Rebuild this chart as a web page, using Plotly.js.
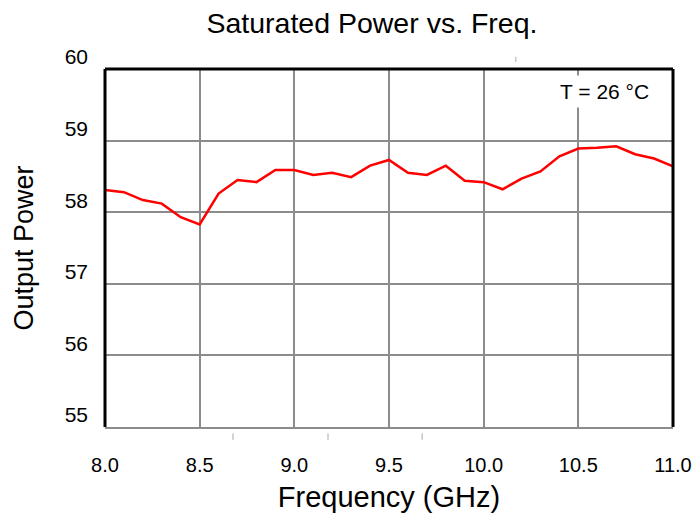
<!DOCTYPE html>
<html>
<head>
<meta charset="utf-8">
<script src="https://cdn.plot.ly/plotly-3.0.1.min.js"></script>
<style>html,body{margin:0;padding:0;background:#fff;}#chart{width:697px;height:518px;}</style>
</head>
<body>
<div id="chart"></div>
<script>
const freqGHz = [8.0,8.1,8.2,8.3,8.4,8.5,8.6,8.7,8.8,8.9,9.0,9.1,9.2,9.3,9.4,9.5,9.6,9.7,9.8,9.9,10.0,10.1,10.2,10.3,10.4,10.5,10.6,10.7,10.8,10.9,11.0];
const outputPower = [58.31,58.28,58.17,58.12,57.93,57.83,58.26,58.45,58.42,58.59,58.59,58.52,58.55,58.49,58.65,58.73,58.55,58.52,58.65,58.44,58.42,58.32,58.47,58.57,58.78,58.89,58.90,58.92,58.81,58.75,58.64];
const xTicks = [8.0,8.5,9.0,9.5,10.0,10.5,11.0];
const xTickText = ["8.0","8.5","9.0","9.5","10.0","10.5","11.0"];
const yTicks = [55,56,57,58,59,60];
const annotationText = "T = 26 °C";
const markTicksBottom = [8.676,9.178,9.675];

const font = "Liberation Sans, Arial, sans-serif";
const shapes = [
  {type:'line', xref:'paper', yref:'paper', x0:0, x1:0, y0:0, y1:1, line:{color:'#000', width:3}},
  {type:'line', xref:'paper', yref:'paper', x0:0, x1:1, y0:1, y1:1, line:{color:'#000', width:3}},
  {type:'line', xref:'paper', yref:'paper', x0:1, x1:1, y0:0, y1:1, line:{color:'#000', width:3}}
];
markTicksBottom.forEach(v => shapes.push({type:'line', xref:'x', yref:'paper', x0:v, x1:v, y0:-0.018, y1:-0.036, line:{color:'#aaa', width:1}}));
shapes.push({type:'line', xref:'x', yref:'paper', x0:10.17, x1:10.17, y0:1.02, y1:1.034, line:{color:'#aaa', width:1}});

const data = [{
  x: freqGHz, y: outputPower, type:'scatter', mode:'lines',
  line:{color:'#ff0000', width:2.5}, hoverinfo:'skip'
}];
const layout = {
  width:697, height:518,
  margin:{l:105, r:24, t:69, b:91},
  paper_bgcolor:'#fff', plot_bgcolor:'#fff',
  showlegend:false,
  font:{family:font, color:'#000', size:20},
  title:{text:'Saturated Power vs. Freq.', font:{size:28.5, family:font, color:'#000'}, x:0.47, xref:'paper', xanchor:'center', y:0.955, yanchor:'middle'},
  xaxis:{
    range:[8,11], tickvals:xTicks, ticktext:xTickText, ticks:'', showgrid:true, gridcolor:'#8c8c8c', gridwidth:2,
    zeroline:false, showline:true, linecolor:'#8c8c8c', linewidth:2,
    tickfont:{size:20, family:font}, ticklabelstandoff:19,
    title:{text:'Frequency (GHz)', font:{size:29, family:font}, standoff:12}
  },
  yaxis:{
    range:[55,60], tickvals:yTicks, ticks:'', showgrid:true, gridcolor:'#8c8c8c', gridwidth:2,
    zeroline:false, showline:false,
    tickfont:{size:21, family:font}, ticklabelshift:-12, ticklabelstandoff:16,
    title:{text:'Output Power', font:{size:27, family:font}, standoff:23}
  },
  shapes: shapes,
  annotations:[{
    text:annotationText, xref:'x', yref:'paper', x:10.636, y:0.9385, xanchor:'center', yanchor:'middle',
    showarrow:false, bgcolor:'#fff', borderpad:4, font:{size:21, family:font, color:'#000'}
  }]
};
Plotly.newPlot('chart', data, layout, {displayModeBar:false, staticPlot:true});
</script>
</body>
</html>
